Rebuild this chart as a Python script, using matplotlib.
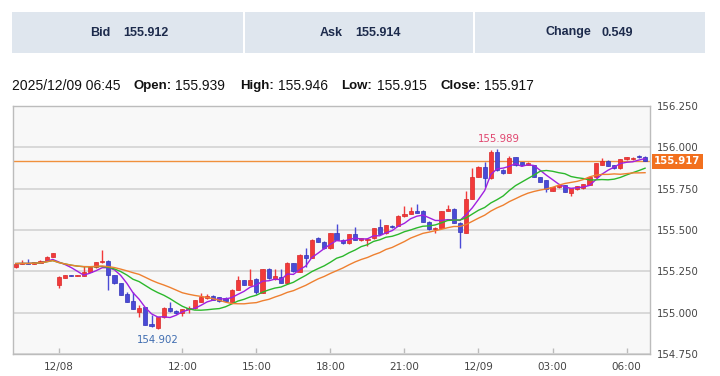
import matplotlib
matplotlib.use("Agg")
import matplotlib.pyplot as plt
from matplotlib.patches import Rectangle
import numpy as np
import pandas as pd

# ---------------- data ----------------
opens = [155.275, 155.296, 155.300, 155.296, 155.300, 155.312, 155.338, 155.167, 155.212, 155.228,
         155.220, 155.222, 155.248, 155.274, 155.304, 155.310, 155.228, 155.178, 155.112, 155.070,
         155.005, 155.032, 154.930, 154.908, 154.972, 155.030, 155.012, 154.996, 155.020, 155.026,
         155.066, 155.090, 155.103, 155.093, 155.090, 155.066, 155.137, 155.197, 155.170, 155.205,
         155.120, 155.262, 155.205, 155.218, 155.178, 155.298, 155.248, 155.350, 155.330, 155.450,
         155.430, 155.390, 155.480, 155.440, 155.420, 155.476, 155.440, 155.440, 155.450, 155.516,
         155.480, 155.526, 155.524, 155.582, 155.596, 155.617, 155.615, 155.550, 155.504, 155.512,
         155.617, 155.630, 155.545, 155.484, 155.690, 155.820, 155.883, 155.813, 155.973, 155.863,
         155.845, 155.940, 155.910, 155.895, 155.893, 155.820, 155.802, 155.737, 155.758, 155.772,
         155.726, 155.746, 155.752, 155.772, 155.820, 155.893, 155.920, 155.893, 155.873, 155.928,
         155.930, 155.950, 155.939]
highs = [155.302, 155.318, 155.322, 155.308, 155.316, 155.340, 155.362, 155.220, 155.230, 155.230,
         155.227, 155.282, 155.276, 155.306, 155.380, 155.320, 155.230, 155.180, 155.125, 155.127,
         155.045, 155.036, 154.986, 154.975, 155.034, 155.062, 155.014, 155.024, 155.040, 155.078,
         155.117, 155.110, 155.108, 155.096, 155.092, 155.142, 155.222, 155.200, 155.262, 155.210,
         155.265, 155.272, 155.262, 155.262, 155.304, 155.300, 155.355, 155.390, 155.445, 155.455,
         155.434, 155.482, 155.536, 155.444, 155.478, 155.516, 155.452, 155.452, 155.512, 155.565,
         155.532, 155.530, 155.588, 155.648, 155.640, 155.660, 155.618, 155.552, 155.518, 155.617,
         155.650, 155.632, 155.548, 155.737, 155.874, 155.885, 155.913, 155.985, 155.989, 155.868,
         155.945, 155.942, 155.912, 155.912, 155.895, 155.822, 155.804, 155.760, 155.774, 155.775,
         155.754, 155.768, 155.780, 155.822, 155.905, 155.934, 155.922, 155.895, 155.930, 155.942,
         155.942, 155.955, 155.946]
lows = [155.268, 155.292, 155.294, 155.292, 155.298, 155.310, 155.336, 155.147, 155.210, 155.219,
        155.219, 155.220, 155.246, 155.272, 155.302, 155.140, 155.175, 155.105, 155.064, 155.022,
        154.975, 154.923, 154.914, 154.902, 154.970, 155.005, 154.990, 154.980, 155.000, 155.024,
        155.064, 155.080, 155.074, 155.062, 155.064, 155.064, 155.135, 155.165, 155.168, 155.115,
        155.117, 155.205, 155.200, 155.177, 155.176, 155.246, 155.246, 155.278, 155.328, 155.428,
        155.388, 155.388, 155.438, 155.418, 155.418, 155.438, 155.436, 155.405, 155.448, 155.475,
        155.478, 155.514, 155.522, 155.580, 155.594, 155.603, 155.548, 155.502, 155.484, 155.510,
        155.615, 155.543, 155.390, 155.482, 155.688, 155.818, 155.762, 155.811, 155.855, 155.840,
        155.843, 155.890, 155.888, 155.893, 155.818, 155.790, 155.730, 155.735, 155.756, 155.730,
        155.705, 155.744, 155.745, 155.770, 155.818, 155.891, 155.885, 155.871, 155.871, 155.926,
        155.925, 155.938, 155.915]
closes = [155.297, 155.299, 155.297, 155.304, 155.312, 155.338, 155.359, 155.217, 155.228, 155.221,
          155.225, 155.244, 155.274, 155.304, 155.312, 155.228, 155.177, 155.107, 155.066, 155.025,
          155.030, 154.925, 154.918, 154.972, 155.030, 155.008, 154.995, 155.022, 155.030, 155.076,
          155.097, 155.100, 155.078, 155.070, 155.068, 155.140, 155.197, 155.170, 155.197, 155.128,
          155.262, 155.207, 155.220, 155.180, 155.300, 155.250, 155.350, 155.330, 155.440, 155.430,
          155.390, 155.480, 155.440, 155.420, 155.476, 155.440, 155.450, 155.448, 155.510, 155.478,
          155.528, 155.516, 155.585, 155.596, 155.615, 155.605, 155.550, 155.504, 155.514, 155.615,
          155.630, 155.545, 155.486, 155.690, 155.820, 155.883, 155.813, 155.973, 155.860, 155.843,
          155.937, 155.893, 155.892, 155.908, 155.820, 155.792, 155.746, 155.758, 155.772, 155.732,
          155.752, 155.766, 155.778, 155.820, 155.903, 155.920, 155.887, 155.873, 155.928, 155.940,
          155.935, 155.940, 155.917]

tick_index = [7, 27, 39, 51, 63, 75, 87, 99]
tick_labels = ["12/08", "12:00", "15:00", "18:00", "21:00", "12/09", "03:00", "06:00"]
y_ticks = [154.75, 155.0, 155.25, 155.5, 155.75, 156.0, 156.25]
ma_periods = [5, 13, 21]

header_labels = ["Bid", "Ask", "Change"]
header_values = ["155.912", "155.914", "0.549"]
info_time = "2025/12/09 06:45"
info_names = ["Open:", "High:", "Low:", "Close:"]
info_values = ["155.939", "155.946", "155.915", "155.917"]
last_price = 155.917

# ---------------- figure ----------------
W, H = 720, 376
fig = plt.figure(figsize=(W / 100, H / 100), dpi=100)
fig.patch.set_facecolor("white")

def fx(px):
    return px / W

def fy(py):
    return 1 - py / H

# header boxes
box_edges = [(12, 243), (245, 473), (475, 705)]
label_x = [(90, 123), (320, 355), (546, 602)]
for (x0, x1), lab, val, (lx, vx) in zip(box_edges, header_labels, header_values, label_x):
    fig.patches.append(Rectangle((fx(x0), fy(53)), fx(x1 - x0), 41 / H,
                                 transform=fig.transFigure, facecolor="#dfe6ee",
                                 edgecolor="none", zorder=0))
    fig.text(fx(lx), fy(32.5), lab, ha="left", va="center", fontsize=9,
             fontweight="bold", color="#1d2b4c", family="Liberation Sans")
    fig.text(fx(vx), fy(32.5), val, ha="left", va="center", fontsize=9,
             fontweight="bold", color="#1d2b4c", family="Liberation Sans")

# info line
fig.text(fx(12), fy(86), info_time, ha="left", va="center", fontsize=10,
         color="#111111", family="Liberation Sans")
name_x = [133, 240, 341, 440]
val_x = [175, 278, 377, 484]
for nm, vl, nx, vx in zip(info_names, info_values, name_x, val_x):
    fig.text(fx(nx), fy(86), nm, ha="left", va="center", fontsize=9.5,
             fontweight="bold", color="#111111", family="Liberation Sans")
    fig.text(fx(vx), fy(86), vl, ha="left", va="center", fontsize=10,
             color="#111111", family="Liberation Sans")

# main axes
ax = fig.add_axes([fx(13), fy(354), fx(650 - 13), (354 - 106) / H])
ax.set_facecolor("#f8f8f8")

n = len(closes)
idx = np.arange(n)
o = np.array(opens); h = np.array(highs); l = np.array(lows); c = np.array(closes)
up = c >= o
red = "#f23a3a"
blue = "#4a4ad6"
colors = np.where(up, red, blue)
edge = np.where(up, "#d82828", "#3434b8")

ax.vlines(idx, l, h, colors=colors, linewidth=1.0, zorder=3)
body_bottom = np.minimum(o, c)
body_h = np.maximum(np.abs(c - o), 0.004)
ax.bar(idx, body_h, bottom=body_bottom, width=0.68, color=colors,
       edgecolor=edge, linewidth=0.5, zorder=4)

# moving averages
s = pd.Series(closes)
ma_colors = ["#a020e0", "#2cb82c", "#ee8030"]
for p, col in zip(ma_periods, ma_colors):
    ax.plot(idx, s.rolling(p, min_periods=1).mean(), color=col, linewidth=1.0, zorder=5)

# current price line
ax.axhline(last_price, color="#f0903c", linewidth=1.0, zorder=2)

ax.set_xlim(-0.45, 102.8)
ax.set_ylim(154.75, 156.25)
ax.set_yticks(y_ticks)
ax.set_yticklabels([f"{v:.3f}" for v in y_ticks])
ax.yaxis.tick_right()
ax.tick_params(axis="y", length=0, pad=5, labelsize=7.3, labelcolor="#444444")
ax.set_xticks(tick_index)
ax.set_xticklabels(tick_labels)
ax.tick_params(axis="x", direction="in", length=4, width=1, color="#bbbbbb",
               pad=6, labelsize=7.5, labelcolor="#444444")
ax.grid(axis="y", color="#d6d6d6", linewidth=1.3)
ax.set_axisbelow(True)
for sp in ax.spines.values():
    sp.set_color("#bcbcbc")
    sp.set_linewidth(1.0)

# max/min annotations
imax = int(np.argmax(h)); imin = int(np.argmin(l))
ax.annotate(f"{h[imax]:.3f}", (imax, h[imax]), xytext=(1.5, 3.5), textcoords="offset points",
            ha="center", va="bottom", fontsize=7.3, color="#e0456e", zorder=6)
ax.annotate(f"{l[imin]:.3f}", (imin, l[imin]), xytext=(0, -4.5), textcoords="offset points",
            ha="center", va="top", fontsize=7.3, color="#3e6cb0", zorder=6)

# last price tag
ax.annotate(f"{last_price:.3f}", (1.0, last_price), xycoords=("axes fraction", "data"),
            xytext=(3, 0), textcoords="offset points", ha="left", va="center",
            fontsize=7.3, fontweight="bold", color="white",
            bbox=dict(boxstyle="square,pad=0.25", facecolor="#f2701e", edgecolor="none"),
            annotation_clip=False, zorder=7)

fig.savefig("out.png", dpi=100)
